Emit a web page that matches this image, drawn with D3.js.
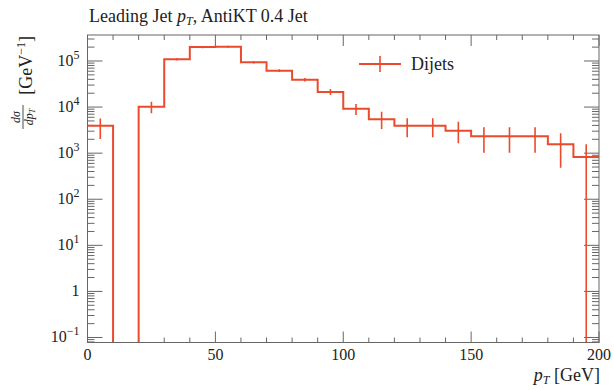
<!DOCTYPE html>
<html>
<head>
<meta charset="utf-8">
<script src="https://cdn.jsdelivr.net/npm/d3@7"></script>
<style>
  body { margin: 0; background: #fff; }
  text { font-family: "Liberation Serif", "DejaVu Serif", serif; fill: #222; }
</style>
</head>
<body>
<div id="chart"></div>
<script>
// histogram bins (GeV), values and error band edges
const binLo  = [0, 10, 20, 30, 40, 50, 60, 70, 80, 90, 100, 110, 120, 130, 140, 150, 160, 170, 180, 190];
const binHi  = [10, 20, 30, 40, 50, 60, 70, 80, 90, 100, 110, 120, 130, 140, 150, 160, 170, 180, 190, 200];
const values = [3950, 0, 10200, 109000, 200000, 205000, 93700, 61600, 39300, 21200, 9220, 5430, 3950, 3950, 3070, 2320, 2320, 2320, 1560, 826];
const errHi  = [5650, 0, 13100, 115000, 210000, 215000, 99000, 66000, 43000, 24700, 11700, 7950, 5700, 5700, 4820, 3640, 3640, 3640, 2700, 1560];
const errLo  = [2030, 0, 7330, 103000, 190000, 195000, 88500, 57500, 36000, 18300, 6730, 3340, 2210, 2210, 1640, 1020, 1020, 1020, 484, 0];

const xTicks = [0, 50, 100, 150, 200];
const yDecades = [-1, 0, 1, 2, 3, 4, 5];
const seriesName = "Dijets";

const W = 614, H = 390;
const margin = {top: 35, right: 15, bottom: 47.5, left: 87.5};
const width = W - margin.left - margin.right;
const height = H - margin.top - margin.bottom;
const red = "#ec4a2c";
const frame = "#666";

const svg = d3.select("#chart").append("svg")
    .attr("width", W)
    .attr("height", H);

const g = svg.append("g")
    .attr("transform", "translate(" + margin.left + "," + margin.top + ")");

// clip so that zero bins fall just under the frame
g.append("defs").append("clipPath")
    .attr("id", "clip")
    .append("rect")
    .attr("width", width)
    .attr("height", height);

const x = d3.scaleLinear().domain([0, 200]).range([0, width]);
const y = d3.scaleLog().domain([Math.pow(10, -1.1085), Math.pow(10, 5.564)]).range([height, 0]).clamp(true);
const yv = v => v > 0 ? y(v) : height + 3;

// title
svg.append("text")
    .attr("x", 89).attr("y", 22)
    .attr("font-size", 18)
    .html('Leading Jet <tspan font-style="italic">p</tspan><tspan font-style="italic" font-size="12" dy="3">T</tspan><tspan dy="-3">, AntiKT 0.4 Jet</tspan>');

// ticks (inward, all four sides)
const ticks = g.append("g").attr("stroke", frame).attr("stroke-width", 1);
d3.range(0, 201, 10).forEach(t => {
    const len = t % 50 === 0 ? 11 : 5;
    ticks.append("line").attr("x1", x(t)).attr("x2", x(t)).attr("y1", height).attr("y2", height - len);
    ticks.append("line").attr("x1", x(t)).attr("x2", x(t)).attr("y1", 0).attr("y2", len);
});
const yMin = y.domain()[0], yMax = y.domain()[1];
for (let e = -2; e <= 5; e++) {
    for (let m = 1; m <= 9; m++) {
        const v = m * Math.pow(10, e);
        if (v < yMin || v > yMax) continue;
        const len = m === 1 ? 15 : 7;
        ticks.append("line").attr("x1", 0).attr("x2", len).attr("y1", y(v)).attr("y2", y(v));
        ticks.append("line").attr("x1", width).attr("x2", width - len).attr("y1", y(v)).attr("y2", y(v));
    }
}

// x tick labels
g.append("g").selectAll("text")
    .data(xTicks)
    .join("text")
    .attr("x", d => x(d))
    .attr("y", height + 17)
    .attr("text-anchor", "middle")
    .attr("font-size", 16)
    .text(d => d);

// y tick labels
const yl = g.append("g");
yDecades.forEach(e => {
    const t = yl.append("text")
        .attr("x", -8)
        .attr("y", y(Math.pow(10, e)) + 5)
        .attr("text-anchor", "end")
        .attr("font-size", 16);
    if (e === 0) { t.text("1"); return; }
    t.append("tspan").text("10");
    t.append("tspan").attr("font-size", 12).attr("dy", -7).text(e < 0 ? "\u2212" + (-e) : e);
});

const plot = g.append("g").attr("clip-path", "url(#clip)");

// histogram step line
const pts = [];
binLo.forEach((lo, i) => {
    pts.push([x(lo), yv(values[i])]);
    pts.push([x(binHi[i]), yv(values[i])]);
});
plot.append("path")
    .attr("d", d3.line()(pts))
    .attr("fill", "none")
    .attr("stroke", red)
    .attr("stroke-width", 2);

// error bars
plot.append("g").selectAll("line")
    .data(binLo.map((lo, i) => i).filter(i => values[i] > 0))
    .join("line")
    .attr("x1", i => x((binLo[i] + binHi[i]) / 2))
    .attr("x2", i => x((binLo[i] + binHi[i]) / 2))
    .attr("y1", i => yv(errHi[i]))
    .attr("y2", i => yv(errLo[i]))
    .attr("stroke", red)
    .attr("stroke-width", 1.6);

// frame
g.append("rect")
    .attr("width", width).attr("height", height)
    .attr("fill", "none").attr("stroke", frame).attr("stroke-width", 1);

// legend
const leg = svg.append("g");
leg.append("line").attr("x1", 359).attr("x2", 401).attr("y1", 64).attr("y2", 64)
    .attr("stroke", red).attr("stroke-width", 2);
leg.append("line").attr("x1", 380).attr("x2", 380).attr("y1", 56).attr("y2", 72)
    .attr("stroke", red).attr("stroke-width", 1.6);
leg.append("text").attr("x", 411).attr("y", 70).attr("font-size", 18).text(seriesName);

// x axis label
svg.append("text")
    .attr("x", 600).attr("y", 381)
    .attr("text-anchor", "end")
    .attr("font-size", 18)
    .html('<tspan font-style="italic">p</tspan><tspan font-style="italic" font-size="12" dy="3">T</tspan><tspan dy="-3"> [GeV]</tspan>');

// y axis label (rotated): d sigma / d pT [GeV^-1]
const ylab = svg.append("g").attr("transform", "translate(0,35) rotate(-90)");
ylab.append("text")
    .attr("x", -1).attr("y", 32)
    .attr("text-anchor", "end")
    .attr("font-size", 18)
    .html('[GeV<tspan font-size="12" dy="-7">\u22121</tspan><tspan dy="7">]</tspan>');
ylab.append("text")
    .attr("x", -82).attr("y", 20)
    .attr("text-anchor", "middle")
    .attr("font-size", 12)
    .attr("font-style", "italic")
    .text("d\u03c3");
ylab.append("line")
    .attr("x1", -94).attr("x2", -70).attr("y1", 23).attr("y2", 23)
    .attr("stroke", "#222").attr("stroke-width", 0.8);
ylab.append("text")
    .attr("x", -82).attr("y", 33)
    .attr("text-anchor", "middle")
    .attr("font-size", 12)
    .attr("font-style", "italic")
    .html('dp<tspan font-size="8" dy="2">T</tspan>');
</script>
</body>
</html>
